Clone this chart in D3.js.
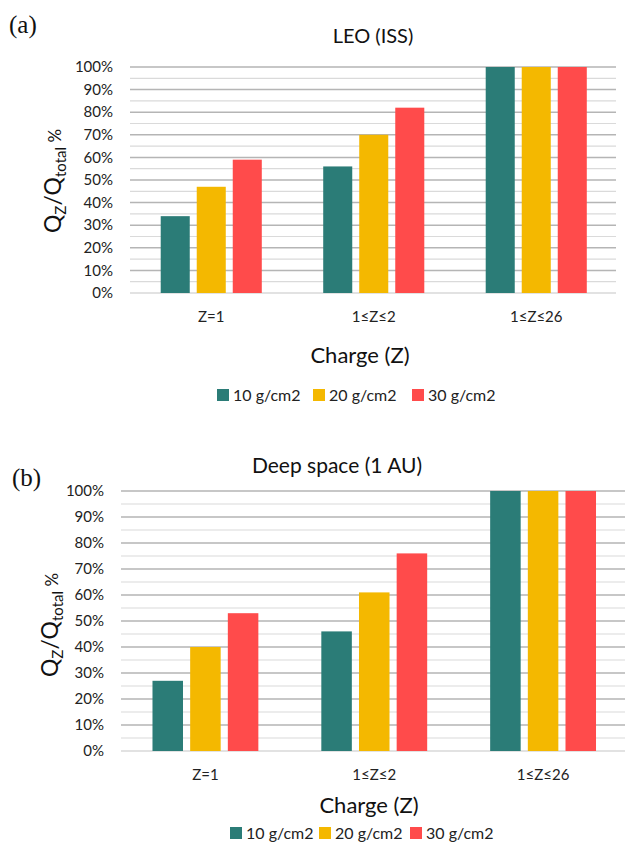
<!DOCTYPE html>
<html>
<head>
<meta charset="utf-8">
<script src="https://cdn.jsdelivr.net/npm/d3@7"></script>
<style>
  body { margin: 0; background: #fff; }
  svg { display: block; font-family: Lato, "Open Sans", sans-serif; }
</style>
</head>
<body>
<div id="chart"></div>
<script>
// categories and series
const categories = ["Z=1", "1≤Z≤2", "1≤Z≤26"];
const seriesNames = ["10 g/cm2", "20 g/cm2", "30 g/cm2"];
const seriesColors = ["#2b7c77", "#f4b800", "#ff4b4b"];
const yTicks = [0, 10, 20, 30, 40, 50, 60, 70, 80, 90, 100];
const yMinorTicks = [5, 15, 25, 35, 45, 55, 65, 75, 85, 95];

// values in %, one array per series (10, 20, 30 g/cm2)
const leo10 = [34, 56, 100];
const leo20 = [47, 70, 100];
const leo30 = [59, 82, 100];
const deep10 = [27, 46, 100];
const deep20 = [40, 61, 100];
const deep30 = [53, 76, 100];

const svg = d3.select("#chart").append("svg")
    .attr("width", 625)
    .attr("height", 843);

function drawPanel(p) {
    const g = svg.append("g");

    // x scales: groups, then bars in a group
    const x0 = d3.scaleBand()
        .domain(categories)
        .range([p.left, p.right])
        .paddingInner(p.padInner)
        .paddingOuter(p.padInner / 2);
    const x1 = d3.scaleBand()
        .domain(seriesNames)
        .range([0, x0.bandwidth()])
        .paddingInner(p.barGap);
    const y = d3.scaleLinear()
        .domain([0, 100])
        .range([p.bottom, p.top]);

    // minor grid lines
    g.selectAll("line.minor")
        .data(yMinorTicks)
        .enter().append("line")
        .attr("class", "minor")
        .attr("x1", p.gridLeft).attr("x2", p.gridRight)
        .attr("y1", d => y(d)).attr("y2", d => y(d))
        .attr("stroke", "#dadada")
        .attr("stroke-width", 1.2);

    // major grid lines
    g.selectAll("line.major")
        .data(yTicks)
        .enter().append("line")
        .attr("class", "major")
        .attr("x1", p.gridLeft).attr("x2", p.gridRight)
        .attr("y1", d => y(d)).attr("y2", d => y(d))
        .attr("stroke", d => d === 0 ? "#d9d9d9" : "#b5b5b5")
        .attr("stroke-width", 1.5);

    // tick labels
    g.selectAll("text.ytick")
        .data(yTicks)
        .enter().append("text")
        .attr("class", "ytick")
        .attr("x", p.tickX)
        .attr("y", d => y(d))
        .attr("dy", "0.35em")
        .attr("text-anchor", "end")
        .style("font-size", "15px")
        .attr("fill", "#222")
        .text(d => d + "%");

    // bars
    const groups = g.selectAll("g.grp")
        .data(categories)
        .enter().append("g")
        .attr("class", "grp")
        .attr("transform", d => "translate(" + x0(d) + ",0)");

    groups.selectAll("rect")
        .data((c, i) => seriesNames.map((s, j) => ({s: s, v: p.values[j][i], c: seriesColors[j]})))
        .enter().append("rect")
        .attr("x", d => x1(d.s))
        .attr("y", d => y(d.v))
        .attr("width", x1.bandwidth())
        .attr("height", d => y(0) - y(d.v))
        .attr("fill", d => d.c);

    // category labels
    g.selectAll("text.cat")
        .data(categories)
        .enter().append("text")
        .attr("class", "cat")
        .attr("x", d => x0(d) + x0.bandwidth() / 2)
        .attr("y", p.catY)
        .attr("text-anchor", "middle")
        .style("font-size", "15px")
        .attr("fill", "#222")
        .text(d => d);

    // title
    g.append("text")
        .attr("x", p.titleX)
        .attr("y", p.titleY)
        .attr("text-anchor", "middle")
        .style("font-size", p.titleSize)
        .attr("fill", "#111")
        .text(p.title);

    // panel letter
    g.append("text")
        .attr("x", p.letterX)
        .attr("y", p.letterY)
        .style("font-family", "'Liberation Serif', 'Times New Roman', serif")
        .style("font-size", "25px")
        .attr("fill", "#111")
        .text(p.letter);

    // y axis label  Q_Z/Q_total %
    const yl = g.append("text")
        .attr("transform", "translate(" + p.ylabX + "," + p.ylabY + ") rotate(-90)")
        .attr("text-anchor", "middle")
        .style("font-size", "23px")
        .attr("fill", "#111");
    yl.append("tspan").text("Q");
    yl.append("tspan").attr("dy", 5).style("font-size", "15px").text("Z");
    yl.append("tspan").attr("dy", -5).text("/Q");
    yl.append("tspan").attr("dy", 5).style("font-size", "15px").text("total");
    yl.append("tspan").attr("dy", -5).style("font-size", "17px").text(" %");

    // x axis title
    g.append("text")
        .attr("x", p.xlabX)
        .attr("y", p.xlabY)
        .attr("text-anchor", "middle")
        .style("font-size", "22px")
        .attr("fill", "#111")
        .text("Charge (Z)");

    // legend
    const leg = g.selectAll("g.leg")
        .data(seriesNames)
        .enter().append("g")
        .attr("class", "leg")
        .attr("transform", (d, i) => "translate(" + p.legX[i] + "," + p.legY + ")");
    leg.append("rect")
        .attr("x", 0).attr("y", -12)
        .attr("width", 12).attr("height", 12)
        .attr("fill", (d, i) => seriesColors[i]);
    leg.append("text")
        .attr("x", 16).attr("y", 0)
        .style("font-size", "16px")
        .attr("fill", "#222")
        .text(d => d);
}

// (a) LEO
drawPanel({
    values: [leo10, leo20, leo30],
    left: 130, right: 617.5, top: 67, bottom: 293,
    gridLeft: 130, gridRight: 616,
    padInner: 0.378, barGap: 0.194,
    tickX: 113, catY: 322,
    title: "LEO (ISS)", titleX: 373, titleY: 43, titleSize: "20px",
    letter: "(a)", letterX: 9, letterY: 33,
    ylabX: 61, ylabY: 181,
    xlabX: 360, xlabY: 363,
    legX: [217, 313, 412], legY: 401
});

// (b) Deep space
drawPanel({
    values: [deep10, deep20, deep30],
    left: 121, right: 627.5, top: 491, bottom: 751,
    gridLeft: 121, gridRight: 625,
    padInner: 0.373, barGap: 0.19,
    tickX: 104, catY: 780,
    title: "Deep space (1 AU)", titleX: 337, titleY: 473, titleSize: "21px",
    letter: "(b)", letterX: 12, letterY: 486,
    ylabX: 58, ylabY: 625,
    xlabX: 369, xlabY: 813,
    legX: [230, 319, 410], legY: 839
});
</script>
</body>
</html>
